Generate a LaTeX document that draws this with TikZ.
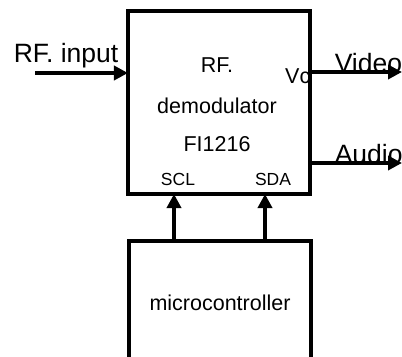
\documentclass[tikz,border=0pt]{standalone}
\usepackage{fontspec}
\setmainfont{Liberation Sans}
\usetikzlibrary{arrows.meta}

\begin{document}
\begin{tikzpicture}[x=1bp,y=-1bp,line width=3.5bp,
  >={Triangle[length=14bp,width=14bp]},
  blk/.style={draw,outer sep=0pt,inner sep=0pt,minimum width=182bp},
  biglbl/.style={inner sep=0pt,font=\fontsize{26.5bp}{30bp}\selectfont},
  boxtxt/.style={inner sep=0pt,anchor=base,font=\fontsize{21.5bp}{24bp}\selectfont},
  pinlbl/.style={inner sep=0pt,anchor=base,font=\fontsize{17.5bp}{20bp}\selectfont}]
\useasboundingbox (0,0) rectangle (402,357);
\node[boxtxt,anchor=base east] (vc) at (312,83) {Vc};
\node[blk,minimum height=183bp] (demod) at (219,102.5) {};
\node[blk,minimum height=124bp,font=\fontsize{21.5bp}{24bp}\selectfont] (micro) at (220,303) {microcontroller};
\node[boxtxt] (rf) at (217,72) {RF.};
\node[boxtxt] (dem) at (217,113) {demodulator};
\node[boxtxt] (fi) at (217,151) {FI1216};
\node[pinlbl] (scl) at (178,185) {SCL};
\node[pinlbl] (sda) at (273,185) {SDA};
\node[biglbl,anchor=base west] (rfinlbl) at (12,62) {RF. input};
\node[biglbl,anchor=base west] (vidlbl) at (333,72) {Video};
\node[biglbl,anchor=base west] (audlbl) at (333,163) {Audio};
\coordinate (rfin) at (35,73);
\coordinate (vidout) at (402,72);
\coordinate (audout) at (402,163);
\coordinate (sclpin) at (174,194);
\coordinate (sdapin) at (265,194);
\draw[->] (rfin) -- (demod.west |- rfin);
\draw[->] (demod.east |- vidout) -- (vidout);
\draw[->] (demod.east |- audout) -- (audout);
\draw[->] (micro.north -| sclpin) -- (sclpin);
\draw[->] (micro.north -| sdapin) -- (sdapin);
\end{tikzpicture}
\end{document}
